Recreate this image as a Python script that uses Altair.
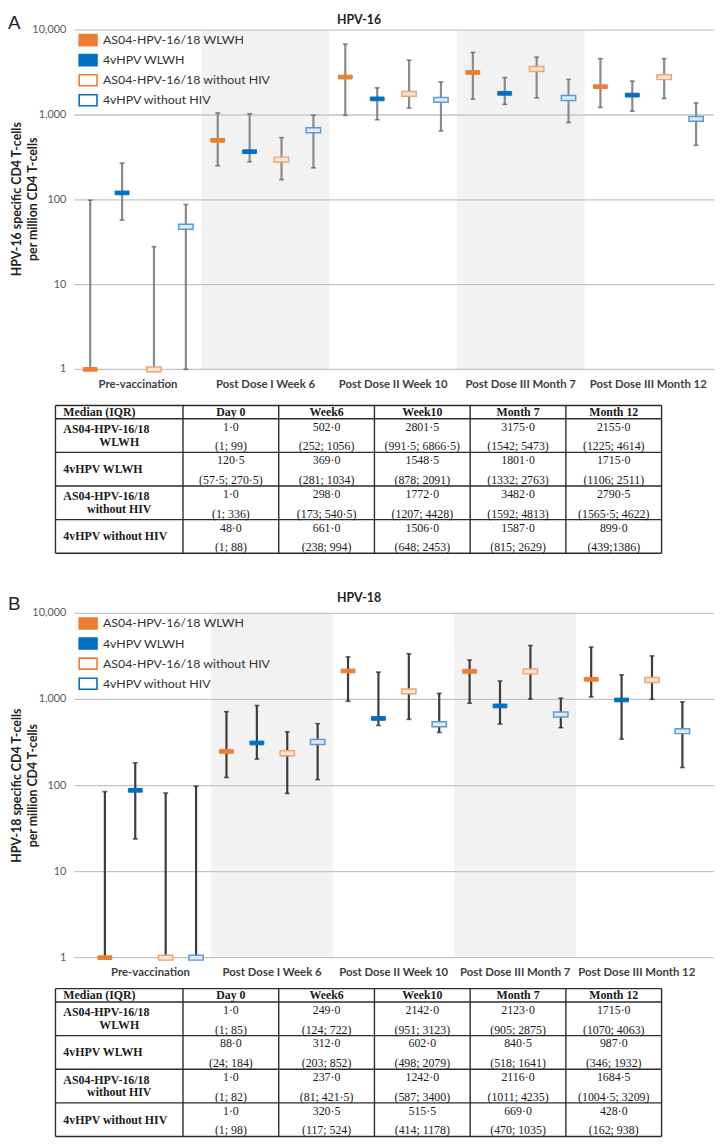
import altair as alt
import pandas as pd

# ---------------- data ----------------
TIMEPOINTS = ["Pre-vaccination", "Post Dose I Week 6", "Post Dose II Week 10",
              "Post Dose III Month 7", "Post Dose III Month 12"]
SERIES = ["AS04-HPV-16/18 WLWH", "4vHPV WLWH",
          "AS04-HPV-16/18 without HIV", "4vHPV without HIV"]
FILLED_SERIES = ["AS04-HPV-16/18 WLWH", "4vHPV WLWH"]
SHADED = [1, 3]
Y_TICKS = [1, 10, 100, 1000, 10000]

# HPV-16 (medians and IQR limits as drawn)
HPV16_MED = {
    "AS04-HPV-16/18 WLWH": [1.0, 502.0, 2801.5, 3175.0, 2155.0],
    "4vHPV WLWH": [120.5, 369.0, 1548.5, 1801.0, 1715.0],
    "AS04-HPV-16/18 without HIV": [1.0, 298.0, 1772.0, 3482.0, 2790.5],
    "4vHPV without HIV": [48.0, 661.0, 1506.0, 1587.0, 899.0],
}
HPV16_Q1 = {
    "AS04-HPV-16/18 WLWH": [1, 252, 991.5, 1542, 1225],
    "4vHPV WLWH": [57.5, 281, 878, 1332, 1106],
    "AS04-HPV-16/18 without HIV": [1, 173, 1207, 1592, 1565.5],
    "4vHPV without HIV": [1, 238, 648, 815, 439],
}
HPV16_Q3 = {
    "AS04-HPV-16/18 WLWH": [99, 1056, 6866.5, 5473, 4614],
    "4vHPV WLWH": [270.5, 1034, 2091, 2763, 2511],
    "AS04-HPV-16/18 without HIV": [28, 540.5, 4428, 4813, 4622],
    "4vHPV without HIV": [88, 994, 2453, 2629, 1386],
}

# HPV-18
HPV18_MED = {
    "AS04-HPV-16/18 WLWH": [1.0, 249.0, 2142.0, 2123.0, 1715.0],
    "4vHPV WLWH": [88.0, 312.0, 602.0, 840.5, 987.0],
    "AS04-HPV-16/18 without HIV": [1.0, 237.0, 1242.0, 2116.0, 1684.5],
    "4vHPV without HIV": [1.0, 320.5, 515.5, 669.0, 428.0],
}
HPV18_Q1 = {
    "AS04-HPV-16/18 WLWH": [1, 124, 951, 905, 1070],
    "4vHPV WLWH": [24, 203, 498, 518, 346],
    "AS04-HPV-16/18 without HIV": [1, 81, 587, 1011, 1004.5],
    "4vHPV without HIV": [1, 117, 414, 470, 162],
}
HPV18_Q3 = {
    "AS04-HPV-16/18 WLWH": [85, 722, 3123, 2875, 4063],
    "4vHPV WLWH": [184, 852, 2079, 1641, 1932],
    "AS04-HPV-16/18 without HIV": [82, 421.5, 3400, 4235, 3209],
    "4vHPV without HIV": [98, 524, 1178, 1035, 938],
}

# tables
TABLE_HEADER = ["Median (IQR)", "Day 0", "Week6", "Week10", "Month 7", "Month 12"]
ROW_LINE1 = ["AS04-HPV-16/18", "4vHPV WLWH", "AS04-HPV-16/18", "4vHPV without HIV"]
ROW_LINE2 = ["WLWH", "", "without HIV", ""]
HPV16_TABLE_MED = [
    ["1·0", "502·0", "2801·5", "3175·0", "2155·0"],
    ["120·5", "369·0", "1548·5", "1801·0", "1715·0"],
    ["1·0", "298·0", "1772·0", "3482·0", "2790·5"],
    ["48·0", "661·0", "1506·0", "1587·0", "899·0"],
]
HPV16_TABLE_IQR = [
    ["(1; 99)", "(252; 1056)", "(991·5; 6866·5)", "(1542; 5473)", "(1225; 4614)"],
    ["(57·5; 270·5)", "(281; 1034)", "(878; 2091)", "(1332; 2763)", "(1106; 2511)"],
    ["(1; 336)", "(173; 540·5)", "(1207; 4428)", "(1592; 4813)", "(1565·5; 4622)"],
    ["(1; 88)", "(238; 994)", "(648; 2453)", "(815; 2629)", "(439;1386)"],
]
HPV18_TABLE_MED = [
    ["1·0", "249·0", "2142·0", "2123·0", "1715·0"],
    ["88·0", "312·0", "602·0", "840·5", "987·0"],
    ["1·0", "237·0", "1242·0", "2116·0", "1684·5"],
    ["1·0", "320·5", "515·5", "669·0", "428·0"],
]
HPV18_TABLE_IQR = [
    ["(1; 85)", "(124; 722)", "(951; 3123)", "(905; 2875)", "(1070; 4063)"],
    ["(24; 184)", "(203; 852)", "(498; 2079)", "(518; 1641)", "(346; 1932)"],
    ["(1; 82)", "(81; 421·5)", "(587; 3400)", "(1011; 4235)", "(1004·5; 3209)"],
    ["(1; 98)", "(117; 524)", "(414; 1178)", "(470; 1035)", "(162; 938)"],
]

# ---------------- styles ----------------
OFF = 8  # page margin
FONT = "Lato"
SERIF = "Liberation Serif"
ORANGE = "#ED7D31"
BLUE = "#0070C0"
MARK_PATH = "M-1,-0.27L1,-0.27L1,0.27L-1,0.27Z"
HOLLOW_PATH = "M-1,-0.34L1,-0.34L1,0.34L-1,0.34Z"
LEG_PATH = "M-1,-0.62L1,-0.62L1,0.62L-1,0.62Z"
HOLLOW_STYLE = {
    "AS04-HPV-16/18 without HIV": ("#FCE4D6", "#F4A26B"),
    "4vHPV without HIV": ("#DDEBF7", "#5B9BD5"),
}


def panel_frame(med, q1, q3):
    rows = []
    for si, s in enumerate(SERIES):
        for ti in range(len(TIMEPOINTS)):
            rows.append(dict(series=s, slot=ti + (si + 0.5) / 4,
                             med=med[s][ti], q1=q1[s][ti], q3=q3[s][ti]))
    return pd.DataFrame(rows)


def panel(df, y_one, y_top, g0, g1, whisker, cap, leg_y):
    unit = (g1 - g0) / len(TIMEPOINTS)
    dmin = (75 - g0) / unit
    dmax = len(TIMEPOINTS) + (722 - g1) / unit
    xs = alt.Scale(domain=[dmin, dmax], range=[75 - OFF, 722 - OFF], nice=False, zero=False)
    ys = alt.Scale(type="log", domain=[1, 10000], range=[y_one - OFF, y_top - OFF], nice=False)

    def X(f):
        return alt.X(f, type="quantitative", scale=xs, axis=None)

    def Y(f):
        return alt.Y(f, type="quantitative", scale=ys, axis=None)

    bands = pd.DataFrame({"start": SHADED, "end": [s + 1 for s in SHADED]})
    band_l = alt.Chart(bands).mark_rect(color="#F2F2F2").encode(
        x=X("start"), x2=alt.X2("end"),
        y=alt.Y(datum=1, type="quantitative", scale=ys, axis=None), y2=alt.Y2(datum=10000))

    ticks = pd.DataFrame({"tick": Y_TICKS})
    grid_l = alt.Chart(ticks).mark_rule(color="#C4C4C4", strokeWidth=1.3).encode(
        y=Y("tick"),
        x=alt.X(datum=dmin, type="quantitative", scale=xs, axis=None), x2=alt.X2(datum=dmax))
    tick_lab = alt.Chart(ticks).mark_text(align="right", baseline="middle", dx=-8,
                                          font=FONT, fontSize=11, color="#595959").encode(
        y=Y("tick"), x=alt.X(datum=dmin, type="quantitative", scale=xs, axis=None),
        text=alt.Text("tick:Q", format=","))

    tp = pd.DataFrame({"label": TIMEPOINTS, "pos": [i + 0.5 for i in range(len(TIMEPOINTS))]})
    xlab = alt.Chart(tp).mark_text(baseline="middle", dy=16, font=FONT, fontSize=11.5,
                                   fontWeight="bold", color="#404040").encode(
        x=X("pos"), y=alt.Y(datum=1, type="quantitative", scale=ys, axis=None), text="label:N")

    whisk = alt.Chart(df).mark_rule(color=whisker, strokeWidth=2.2).encode(
        x=X("slot"), y=Y("q1"), y2=alt.Y2("q3"))
    cap_lo = alt.Chart(df).mark_tick(orient="horizontal", size=5, thickness=1.6, color=cap).encode(
        x=X("slot"), y=Y("q1"))
    cap_hi = alt.Chart(df).mark_tick(orient="horizontal", size=5, thickness=1.6, color=cap).encode(
        x=X("slot"), y=Y("q3"))

    leg = dict(orient="none", legendX=79 - OFF, legendY=leg_y - OFF, title=None,
               symbolType=LEG_PATH, symbolSize=324, symbolStrokeWidth=1.6,
               labelFont=FONT, labelFontSize=12.5, labelColor="#333333", labelLimit=400,
               rowPadding=1.3, labelOffset=5, padding=0)
    filled = alt.Chart(df).transform_filter(
        alt.FieldOneOfPredicate(field="series", oneOf=FILLED_SERIES)
    ).mark_point(shape=MARK_PATH, filled=True, size=196, strokeWidth=1, opacity=1).encode(
        x=X("slot"), y=Y("med"),
        fill=alt.Fill("series:N", scale=alt.Scale(domain=SERIES, range=[ORANGE, BLUE, "white", "white"]),
                      legend=alt.Legend(**leg)),
        stroke=alt.Stroke("series:N", scale=alt.Scale(domain=SERIES, range=[ORANGE, BLUE, ORANGE, BLUE]),
                          legend=alt.Legend(**leg)),
    )
    hollows = []
    for s, (fc, sc) in HOLLOW_STYLE.items():
        hollows.append(alt.Chart(df).transform_filter(alt.datum.series == s).mark_point(
            shape=HOLLOW_PATH, filled=True, size=210, fill=fc, stroke=sc, strokeWidth=1.5, opacity=1
        ).encode(x=X("slot"), y=Y("med")))

    return alt.layer(band_l, grid_l, tick_lab, xlab, whisk, cap_lo, cap_hi, filled, *hollows)


def table(med, iqr, top):
    col_edges = [56, 185, 669]
    row_edges = [top, top + 13.5, top + 13.5 + 34 * 4]
    xs = alt.Scale(domain=[0, 1, 6], range=[c - OFF for c in col_edges], nice=False, zero=False)
    ys = alt.Scale(domain=[0, 1, 5], range=[r - OFF for r in row_edges], nice=False, zero=False)

    def X(f):
        return alt.X(f, type="quantitative", scale=xs, axis=None)

    def Y(f):
        return alt.Y(f, type="quantitative", scale=ys, axis=None)

    hl = pd.DataFrame({"r": list(range(len(ROW_LINE1) + 2))})
    vl = pd.DataFrame({"c": list(range(len(TABLE_HEADER) + 1))})
    hrule = alt.Chart(hl).mark_rule(color="#2b2b2b", strokeWidth=1.4).encode(
        y=Y("r"), x=alt.X(datum=0, type="quantitative", scale=xs, axis=None), x2=alt.X2(datum=6))
    vrule = alt.Chart(vl).mark_rule(color="#2b2b2b", strokeWidth=1.4).encode(
        x=X("c"), y=alt.Y(datum=0, type="quantitative", scale=ys, axis=None), y2=alt.Y2(datum=5))

    hd = pd.DataFrame({"label": TABLE_HEADER[1:], "c": [i + 1.5 for i in range(5)]})
    head = alt.Chart(hd).mark_text(font=SERIF, fontSize=12, fontWeight="bold", color="#1a1a1a",
                                   baseline="middle").encode(
        x=X("c"), y=alt.Y(datum=0.5, type="quantitative", scale=ys, axis=None), text="label:N")
    head0 = alt.Chart(pd.DataFrame({"label": TABLE_HEADER[:1]})).mark_text(
        font=SERIF, fontSize=12, fontWeight="bold", color="#1a1a1a", align="left", dx=8,
        baseline="middle").encode(
        x=alt.X(datum=0, type="quantitative", scale=xs, axis=None),
        y=alt.Y(datum=0.5, type="quantitative", scale=ys, axis=None), text="label:N")

    rl = pd.DataFrame({"l1": ROW_LINE1, "l2": ROW_LINE2,
                       "r": [i + 1.5 for i in range(len(ROW_LINE1))]})
    row_style = dict(font=SERIF, fontSize=12, fontWeight="bold", color="#1a1a1a", baseline="middle")
    rows_single = alt.Chart(rl).transform_filter("datum.l2 == ''").mark_text(
        align="left", dx=8, **row_style).encode(
        x=alt.X(datum=0, type="quantitative", scale=xs, axis=None), y=Y("r"), text="l1:N")
    rows_first = alt.Chart(rl).transform_filter("datum.l2 != ''").mark_text(
        align="left", dx=8, dy=-6.5, **row_style).encode(
        x=alt.X(datum=0, type="quantitative", scale=xs, axis=None), y=Y("r"), text="l1:N")
    rows_second = alt.Chart(rl).transform_filter("datum.l2 != ''").mark_text(
        align="center", dy=6.5, **row_style).encode(
        x=alt.X(datum=0.5, type="quantitative", scale=xs, axis=None), y=Y("r"), text="l2:N")

    cells = []
    for ri in range(len(med)):
        for ci in range(len(med[ri])):
            cells.append(dict(c=ci + 1.5, top=ri + 1, bot=ri + 2, m=med[ri][ci], q=iqr[ri][ci]))
    cdf = pd.DataFrame(cells)
    mtxt = alt.Chart(cdf).mark_text(font=SERIF, fontSize=12, color="#1a1a1a", baseline="middle",
                                    dy=8).encode(x=X("c"), y=Y("top"), text="m:N")
    qtxt = alt.Chart(cdf).mark_text(font=SERIF, fontSize=12, color="#1a1a1a", baseline="middle",
                                    dy=-6).encode(x=X("c"), y=Y("bot"), text="q:N")
    return alt.layer(hrule, vrule, head, head0, rows_single, rows_first, rows_second, mtxt, qtxt)


def annot(text, x, y, **kw):
    return alt.Chart(pd.DataFrame({"t": [text]})).mark_text(**kw).encode(
        x=alt.value(x - OFF), y=alt.value(y - OFF), text="t:N")


pA = panel(panel_frame(HPV16_MED, HPV16_Q1, HPV16_Q3), 367, 24, 75, 720, "#8A8A8A", "#555555", 24)
tA = table(HPV16_TABLE_MED, HPV16_TABLE_IQR, 403.5)
pB = panel(panel_frame(HPV18_MED, HPV18_Q1, HPV18_Q3), 962, 613.8, 90.6, 705.4, "#3C3C3C", "#222222", 614)
tB = table(HPV18_TABLE_MED, HPV18_TABLE_IQR, 993.3)

notes = [
    annot("A", 8, 8, font="Liberation Sans", fontSize=19, align="left", baseline="top", color="#222222"),
    annot("HPV-16", 363, 8, font=FONT, fontSize=12.5, fontWeight="bold", baseline="top", color="#222222"),
    annot("HPV-16 specific CD4 T-cells\nper million CD4 T-cells", 17, 195, font=FONT, fontSize=12.5,
          fontWeight="bold", angle=270, lineBreak="\n", lineHeight=16, baseline="middle",
          align="center", color="#222222"),
    annot("B", 8, 595, font="Liberation Sans", fontSize=19, align="left", baseline="top", color="#222222"),
    annot("HPV-18", 363, 592, font=FONT, fontSize=12.5, fontWeight="bold", baseline="top", color="#222222"),
    annot("HPV-18 specific CD4 T-cells\nper million CD4 T-cells", 17, 788, font=FONT, fontSize=12.5,
          fontWeight="bold", angle=270, lineBreak="\n", lineHeight=16, baseline="middle",
          align="center", color="#222222"),
]

chart = alt.layer(pA, tA, pB, tB, *notes).resolve_scale(
    x="independent", y="independent", fill="independent", stroke="independent"
).properties(
    width=714, height=1138, padding=0, autosize=alt.AutoSizeParams(type="none")
).configure_view(strokeWidth=0)

chart.save("out.html", embed_options={"renderer": "svg", "actions": False})
